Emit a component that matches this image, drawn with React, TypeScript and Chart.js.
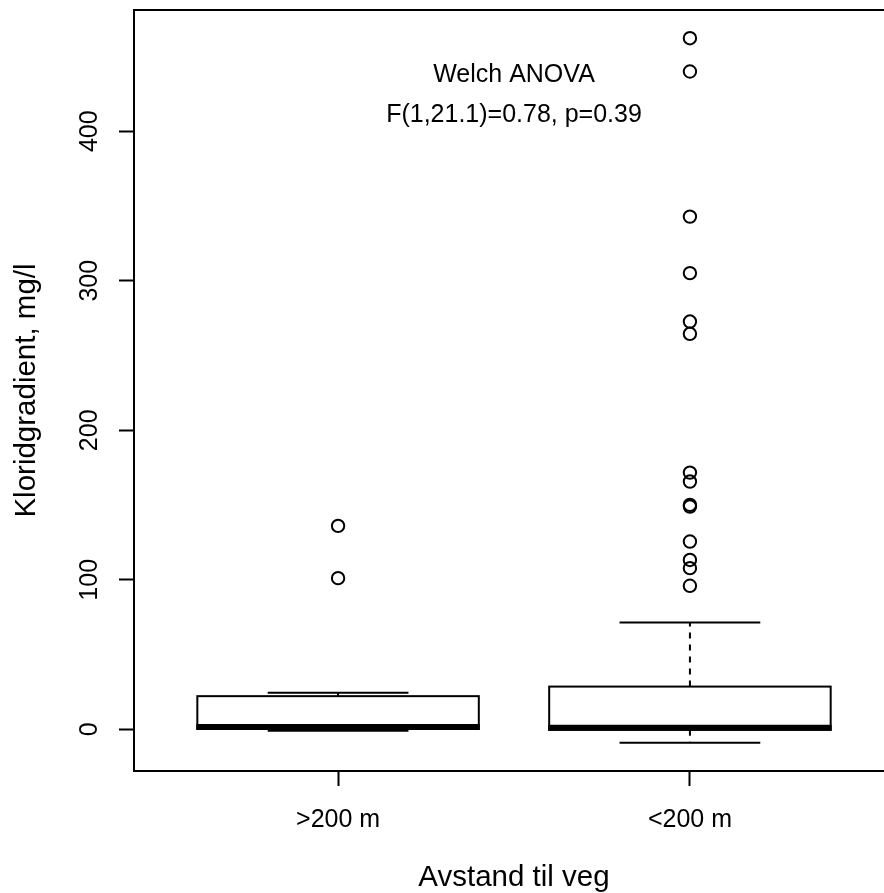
import React, { useEffect, useRef } from "react";
import { Chart, registerables } from "chart.js";

Chart.register(...registerables);

// ---- data ----
const categories = [">200 m", "<200 m"];
const whiskerLow = [-1.0, -9.0];
const q1 = [0.3, -0.3];
const median = [1.6, 1.0];
const q3 = [22.2, 28.6];
const whiskerHigh = [24.5, 71.4];
const outliersFar = [136.1, 101.1];
const outliersNear = [462.2, 439.9, 342.9, 305.1, 272.7, 264.5, 171.7, 165.7, 150.1, 149.0, 125.6, 113.3, 107.8, 96.0];
const yTickValues = [0, 100, 200, 300, 400];
const yTitle = "Kloridgradient, mg/l";
const xTitle = "Avstand til veg";
const annotationLines = ["Welch ANOVA", "F(1,21.1)=0.78, p=0.39"];
const annotationY = [433, 406];

const FONT = "'Liberation Sans', Arial, Helvetica, sans-serif";

const allOutliers = [outliersFar, outliersNear];
const allVals = [...whiskerLow, ...whiskerHigh, ...outliersFar, ...outliersNear];
const dMin = Math.min(...allVals);
const dMax = Math.max(...allVals);
const yMin = dMin - 0.04 * (dMax - dMin);
const yMax = dMax + 0.04 * (dMax - dMin);

const boxPlugin = {
  id: "rbox",
  afterDatasetsDraw(chart: any) {
    const ctx = chart.ctx as CanvasRenderingContext2D;
    const xs = chart.scales.x;
    const ys = chart.scales.y;
    const ca = chart.chartArea;
    ctx.save();
    ctx.strokeStyle = "#000";
    ctx.fillStyle = "#000";
    for (let i = 0; i < categories.length; i++) {
      const cx = xs.getPixelForValue(i + 1);
      const hw = xs.getPixelForValue(i + 1 + 0.4) - cx;
      const sw = hw / 2;
      const yQ1 = ys.getPixelForValue(q1[i]);
      const yQ3 = ys.getPixelForValue(q3[i]);
      const yMed = ys.getPixelForValue(median[i]);
      const yLo = ys.getPixelForValue(whiskerLow[i]);
      const yHi = ys.getPixelForValue(whiskerHigh[i]);
      // whiskers (dashed)
      ctx.lineWidth = 2;
      ctx.setLineDash([6, 6]);
      ctx.beginPath();
      ctx.moveTo(cx, yQ3);
      ctx.lineTo(cx, yHi);
      ctx.moveTo(cx, yQ1);
      ctx.lineTo(cx, yLo);
      ctx.stroke();
      ctx.setLineDash([]);
      // staples
      ctx.beginPath();
      ctx.moveTo(cx - sw, yHi);
      ctx.lineTo(cx + sw, yHi);
      ctx.moveTo(cx - sw, yLo);
      ctx.lineTo(cx + sw, yLo);
      ctx.stroke();
      // box
      ctx.fillStyle = "#fff";
      ctx.fillRect(cx - hw, yQ3, 2 * hw, yQ1 - yQ3);
      ctx.strokeRect(cx - hw, yQ3, 2 * hw, yQ1 - yQ3);
      // median
      ctx.lineWidth = 6;
      ctx.lineCap = "butt";
      ctx.beginPath();
      ctx.moveTo(cx - hw - 1, yMed);
      ctx.lineTo(cx + hw + 1, yMed);
      ctx.stroke();
    }
    // frame
    ctx.lineWidth = 2;
    ctx.strokeRect(ca.left, ca.top, ca.right - ca.left, ca.bottom - ca.top);

    ctx.fillStyle = "#000";
    // y tick labels (rotated)
    ctx.font = `25px ${FONT}`;
    for (const v of yTickValues) {
      const py = ys.getPixelForValue(v);
      ctx.save();
      ctx.translate(97, py);
      ctx.rotate(-Math.PI / 2);
      ctx.textAlign = "center";
      ctx.textBaseline = "alphabetic";
      ctx.fillText(String(v), 0, 0);
      ctx.restore();
    }
    // x tick labels
    ctx.textAlign = "center";
    ctx.textBaseline = "alphabetic";
    for (let i = 0; i < categories.length; i++) {
      ctx.fillText(categories[i], xs.getPixelForValue(i + 1), ca.bottom + 56);
    }
    // annotation
    for (let k = 0; k < annotationLines.length; k++) {
      ctx.fillText(annotationLines[k], xs.getPixelForValue(1.5), ys.getPixelForValue(annotationY[k]));
    }
    // axis titles
    ctx.font = `29.5px ${FONT}`;
    ctx.fillText(xTitle, (ca.left + ca.right) / 2, ca.bottom + 115);
    ctx.save();
    ctx.translate(35, (ca.top + ca.bottom) / 2);
    ctx.rotate(-Math.PI / 2);
    ctx.fillText(yTitle, 0, 0);
    ctx.restore();
    ctx.restore();
  },
};

export default function App() {
  const ref = useRef<HTMLCanvasElement | null>(null);
  useEffect(() => {
    if (!ref.current) return;
    const datasets = allOutliers.map((arr, i) => ({
      label: categories[i],
      data: arr.map((v) => ({ x: i + 1, y: v })),
      pointStyle: "circle",
      pointRadius: 6.2,
      pointBorderWidth: 2,
      pointBorderColor: "#000",
      pointBackgroundColor: "rgba(0,0,0,0)",
      showLine: false,
    }));
    const chart = new Chart(ref.current, {
      type: "scatter",
      data: { datasets: datasets as any },
      plugins: [boxPlugin],
      options: {
        animation: false,
        responsive: false,
        events: [],
        layout: { padding: { left: 0, top: 10, right: 26, bottom: 0 } },
        plugins: { legend: { display: false }, tooltip: { enabled: false } },
        scales: {
          x: {
            type: "linear",
            min: 0.42,
            max: 2.58,
            afterBuildTicks: (s: any) => {
              s.ticks = categories.map((_, i) => ({ value: i + 1 }));
            },
            afterFit: (s: any) => {
              s.height = 122;
            },
            grid: { drawOnChartArea: false, drawTicks: true, tickLength: 15, tickWidth: 2, color: "#000" },
            border: { display: true, color: "#000", width: 2 },
            ticks: { display: false },
          },
          y: {
            type: "linear",
            min: yMin,
            max: yMax,
            afterBuildTicks: (s: any) => {
              s.ticks = yTickValues.map((v) => ({ value: v }));
            },
            afterFit: (s: any) => {
              s.width = 134;
            },
            grid: { drawOnChartArea: false, drawTicks: true, tickLength: 15, tickWidth: 2, color: "#000" },
            border: { display: true, color: "#000", width: 2 },
            ticks: { display: false },
          },
        },
      } as any,
    });
    return () => chart.destroy();
  }, []);
  return (
    <div style={{ position: "fixed", left: 0, top: 0, width: 884, height: 893, overflow: "hidden", background: "#fff" }}>
      <canvas ref={ref} width={920} height={893} style={{ display: "block" }} />
    </div>
  );
}
